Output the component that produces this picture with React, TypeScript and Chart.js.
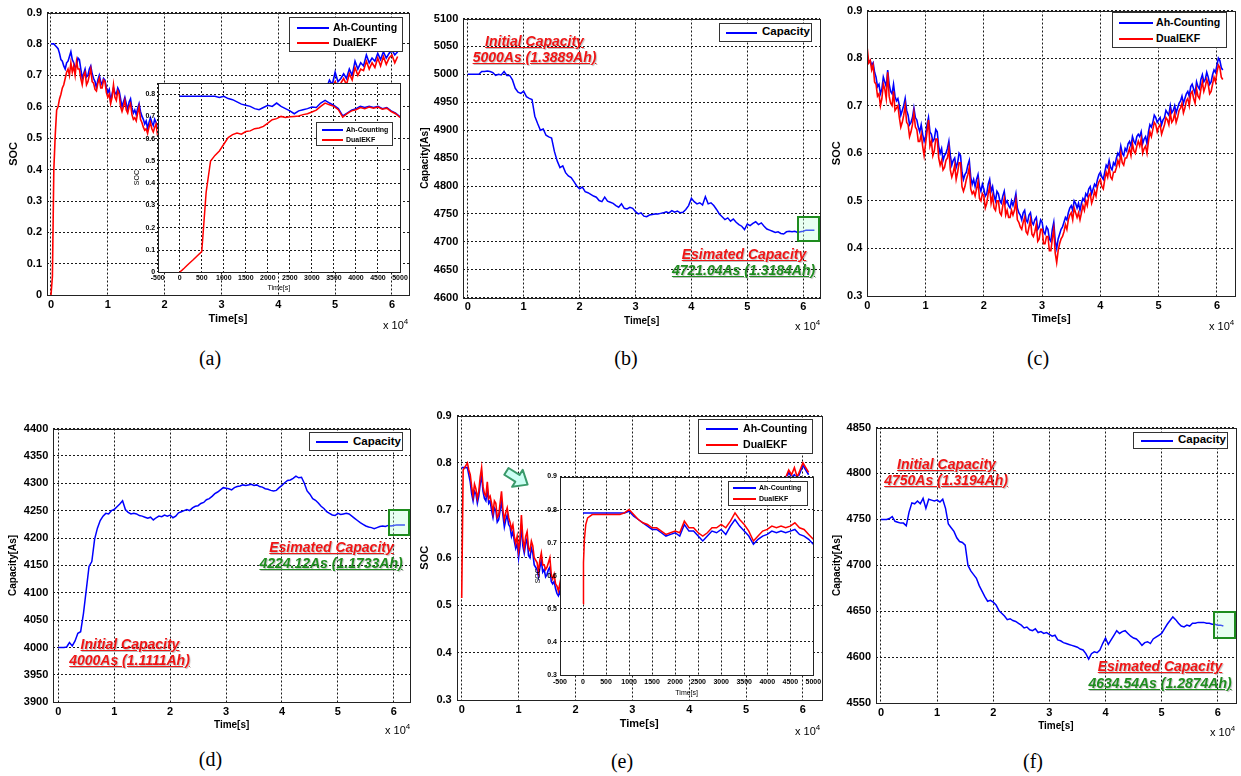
import React, { useEffect, useRef } from "react";
import { Chart, registerables } from "chart.js";

Chart.register(...registerables);

const SANS = "'Liberation Sans', Arial, Helvetica, sans-serif";
const SERIF = "'Liberation Serif', 'Times New Roman', serif";
Chart.defaults.font.family = SANS;

// ---------- time axes ----------
// main panels: time in units of 1e4 s
const timeE4 = [
  0, 0.05, 0.1, 0.15, 0.2, 0.25, 0.3, 0.35, 0.4, 0.45,
  0.5, 0.55, 0.6, 0.65, 0.7, 0.75, 0.8, 0.85, 0.9, 0.95,
  1, 1.05, 1.1, 1.15, 1.2, 1.25, 1.3, 1.35, 1.4, 1.45,
  1.5, 1.55, 1.6, 1.65, 1.7, 1.75, 1.8, 1.85, 1.9, 1.95,
  2, 2.05, 2.1, 2.15, 2.2, 2.25, 2.3, 2.35, 2.4, 2.45,
  2.5, 2.55, 2.6, 2.65, 2.7, 2.75, 2.8, 2.85, 2.9, 2.95,
  3, 3.05, 3.1, 3.15, 3.2, 3.25, 3.3, 3.35, 3.4, 3.45,
  3.5, 3.55, 3.6, 3.65, 3.7, 3.75, 3.8, 3.85, 3.9, 3.95,
  4, 4.05, 4.1, 4.15, 4.2, 4.25, 4.3, 4.35, 4.4, 4.45,
  4.5, 4.55, 4.6, 4.65, 4.7, 4.75, 4.8, 4.85, 4.9, 4.95,
  5, 5.05, 5.1, 5.15, 5.2, 5.25, 5.3, 5.35, 5.4, 5.45,
  5.5, 5.55, 5.6, 5.65, 5.7, 5.75, 5.8, 5.85, 5.9, 5.95,
  6, 6.05, 6.1, 6.15, 6.2,
];
// finer sampling (units of 1e4 s) for panel (c)
const timeFineE4 = [
  0, 0.025, 0.05, 0.075, 0.1, 0.125, 0.15, 0.175, 0.2, 0.225, 0.25, 0.275, 0.3, 0.325, 0.35, 0.375, 0.4, 0.425, 0.45, 0.475,
  0.5, 0.525, 0.55, 0.575, 0.6, 0.625, 0.65, 0.675, 0.7, 0.725, 0.75, 0.775, 0.8, 0.825, 0.85, 0.875, 0.9, 0.925, 0.95, 0.975,
  1, 1.025, 1.05, 1.075, 1.1, 1.125, 1.15, 1.175, 1.2, 1.225, 1.25, 1.275, 1.3, 1.325, 1.35, 1.375, 1.4, 1.425, 1.45, 1.475,
  1.5, 1.525, 1.55, 1.575, 1.6, 1.625, 1.65, 1.675, 1.7, 1.725, 1.75, 1.775, 1.8, 1.825, 1.85, 1.875, 1.9, 1.925, 1.95, 1.975,
  2, 2.025, 2.05, 2.075, 2.1, 2.125, 2.15, 2.175, 2.2, 2.225, 2.25, 2.275, 2.3, 2.325, 2.35, 2.375, 2.4, 2.425, 2.45, 2.475,
  2.5, 2.525, 2.55, 2.575, 2.6, 2.625, 2.65, 2.675, 2.7, 2.725, 2.75, 2.775, 2.8, 2.825, 2.85, 2.875, 2.9, 2.925, 2.95, 2.975,
  3, 3.025, 3.05, 3.075, 3.1, 3.125, 3.15, 3.175, 3.2, 3.225, 3.25, 3.275, 3.3, 3.325, 3.35, 3.375, 3.4, 3.425, 3.45, 3.475,
  3.5, 3.525, 3.55, 3.575, 3.6, 3.625, 3.65, 3.675, 3.7, 3.725, 3.75, 3.775, 3.8, 3.825, 3.85, 3.875, 3.9, 3.925, 3.95, 3.975,
  4, 4.025, 4.05, 4.075, 4.1, 4.125, 4.15, 4.175, 4.2, 4.225, 4.25, 4.275, 4.3, 4.325, 4.35, 4.375, 4.4, 4.425, 4.45, 4.475,
  4.5, 4.525, 4.55, 4.575, 4.6, 4.625, 4.65, 4.675, 4.7, 4.725, 4.75, 4.775, 4.8, 4.825, 4.85, 4.875, 4.9, 4.925, 4.95, 4.975,
  5, 5.025, 5.05, 5.075, 5.1, 5.125, 5.15, 5.175, 5.2, 5.225, 5.25, 5.275, 5.3, 5.325, 5.35, 5.375, 5.4, 5.425, 5.45, 5.475,
  5.5, 5.525, 5.55, 5.575, 5.6, 5.625, 5.65, 5.675, 5.7, 5.725, 5.75, 5.775, 5.8, 5.825, 5.85, 5.875, 5.9, 5.925, 5.95, 5.975,
  6, 6.025, 6.05, 6.075, 6.1,
];
// mixed sampling for panels (a) and (e): fine where the main curve is visible, coarser under the inset
const timeMixE4 = [
  0, 0.025, 0.05, 0.075, 0.1, 0.125, 0.15, 0.175, 0.2, 0.225, 0.25, 0.275, 0.3, 0.325, 0.35, 0.375, 0.4, 0.425, 0.45, 0.475,
  0.5, 0.525, 0.55, 0.575, 0.6, 0.625, 0.65, 0.675, 0.7, 0.725, 0.75, 0.775, 0.8, 0.825, 0.85, 0.875, 0.9, 0.925, 0.95, 0.975,
  1, 1.025, 1.05, 1.075, 1.1, 1.125, 1.15, 1.175, 1.2, 1.225, 1.25, 1.275, 1.3, 1.325, 1.35, 1.375, 1.4, 1.425, 1.45, 1.475,
  1.5, 1.525, 1.55, 1.575, 1.6, 1.625, 1.65, 1.675, 1.7, 1.725, 1.75, 1.775, 1.8, 1.825, 1.85, 1.875, 1.9, 1.925, 1.95, 1.975,
  2, 2.05, 2.1, 2.15, 2.2, 2.25, 2.3, 2.35, 2.4, 2.45,
  2.5, 2.55, 2.6, 2.65, 2.7, 2.75, 2.8, 2.85, 2.9, 2.95,
  3, 3.05, 3.1, 3.15, 3.2, 3.25, 3.3, 3.35, 3.4, 3.45,
  3.5, 3.55, 3.6, 3.65, 3.7, 3.75, 3.8, 3.85, 3.9, 3.95,
  4, 4.05, 4.1, 4.15, 4.2, 4.25, 4.3, 4.35, 4.4, 4.45,
  4.5, 4.55, 4.6, 4.65, 4.7, 4.75, 4.8, 4.85, 4.9, 4.95,
  5, 5.05, 5.1, 5.15, 5.2, 5.25, 5.3, 5.35, 5.4, 5.45,
  5.5, 5.55, 5.6, 5.65, 5.7, 5.75, 5.8, 5.85, 5.9, 5.95,
  6, 6.05, 6.1,
];
// insets: time in seconds
const insetTime = [
  0, 10, 30, 60, 100, 200, 300, 400, 500, 600, 700, 800,
  900, 1000, 1100, 1200, 1300, 1400, 1500, 1600, 1700, 1800,
  1900, 2000, 2100, 2200, 2300, 2400, 2500, 2600, 2700, 2800,
  2900, 3000, 3100, 3200, 3300, 3400, 3500, 3600, 3700, 3800,
  3900, 4000, 4100, 4200, 4300, 4400, 4500, 4600, 4700, 4800,
  4900, 5000,
];

// ---------- tick labels ----------
const timeTicks = [0, 1, 2, 3, 4, 5, 6];
const socTicksFull = [0, 0.1, 0.2, 0.3, 0.4, 0.5, 0.6, 0.7, 0.8, 0.9];
const socTicksUpper = [0.3, 0.4, 0.5, 0.6, 0.7, 0.8, 0.9];
const insetTimeTicks = [-500, 0, 500, 1000, 1500, 2000, 2500, 3000, 3500, 4000, 4500, 5000];
const insetSocTicksA = [0, 0.1, 0.2, 0.3, 0.4, 0.5, 0.6, 0.7, 0.8];
const capTicksB = [4600, 4650, 4700, 4750, 4800, 4850, 4900, 4950, 5000, 5050, 5100];
const capTicksD = [3900, 3950, 4000, 4050, 4100, 4150, 4200, 4250, 4300, 4350, 4400];
const capTicksF = [4550, 4600, 4650, 4700, 4750, 4800, 4850];

// ---------- series names ----------
const socNames = ["Ah-Counting", "DualEKF"];
const capName = "Capacity";

// ---------- (a) (on timeMixE4) ----------
const socAhA = [
  0.80, 0.80, 0.80, 0.795, 0.79, 0.785, 0.77, 0.75, 0.745, 0.73, 0.72, 0.74, 0.745, 0.76, 0.775, 0.75, 0.74, 0.725, 0.73, 0.755,
  0.75, 0.72, 0.69, 0.705, 0.72, 0.695, 0.70, 0.72, 0.73, 0.705, 0.69, 0.68, 0.66, 0.685, 0.70, 0.68, 0.67, 0.69, 0.685, 0.66,
  0.645, 0.655, 0.62, 0.64, 0.66, 0.645, 0.64, 0.66, 0.65, 0.625, 0.60, 0.615, 0.63, 0.61, 0.59, 0.615, 0.625, 0.595, 0.58, 0.59,
  0.575, 0.595, 0.61, 0.585, 0.57, 0.56, 0.545, 0.555, 0.53, 0.55, 0.565, 0.55, 0.54, 0.56, 0.55, 0.535, 0.53, 0.545, 0.52, 0.53,
  0.525, 0.515, 0.53, 0.50, 0.51, 0.495, 0.50, 0.49, 0.485, 0.49,
  0.48, 0.475, 0.465, 0.47, 0.455, 0.46, 0.45, 0.455, 0.44, 0.445,
  0.43, 0.435, 0.425, 0.42, 0.435, 0.41, 0.43, 0.445, 0.455, 0.47,
  0.48, 0.49, 0.485, 0.50, 0.505, 0.515, 0.52, 0.53, 0.535, 0.545,
  0.55, 0.56, 0.565, 0.575, 0.58, 0.59, 0.595, 0.605, 0.61, 0.62,
  0.625, 0.635, 0.64, 0.645, 0.65, 0.655, 0.67, 0.66, 0.685, 0.67,
  0.71, 0.68, 0.69, 0.705, 0.69, 0.72, 0.70, 0.745, 0.72, 0.74,
  0.73, 0.765, 0.74, 0.755, 0.745, 0.77, 0.75, 0.775, 0.755, 0.77,
  0.78, 0.765, 0.775,
];
const socEkfA = [
  0, 0.06, 0.40, 0.51, 0.59, 0.60, 0.625, 0.64, 0.66, 0.67, 0.69, 0.71, 0.72, 0.70, 0.74, 0.71, 0.73, 0.70, 0.745, 0.72,
  0.72, 0.69, 0.67, 0.70, 0.71, 0.67, 0.68, 0.70, 0.72, 0.68, 0.675, 0.655, 0.65, 0.675, 0.69, 0.66, 0.66, 0.685, 0.68, 0.645,
  0.63, 0.64, 0.61, 0.63, 0.67, 0.63, 0.62, 0.65, 0.64, 0.60, 0.585, 0.60, 0.62, 0.59, 0.58, 0.60, 0.61, 0.575, 0.56, 0.565,
  0.555, 0.58, 0.60, 0.56, 0.55, 0.535, 0.525, 0.53, 0.515, 0.535, 0.55, 0.53, 0.52, 0.535, 0.545, 0.51, 0.515, 0.525, 0.505, 0.515,
  0.51, 0.50, 0.515, 0.485, 0.495, 0.48, 0.485, 0.475, 0.47, 0.475,
  0.465, 0.46, 0.45, 0.455, 0.44, 0.445, 0.435, 0.44, 0.425, 0.43,
  0.415, 0.42, 0.41, 0.405, 0.42, 0.395, 0.415, 0.43, 0.44, 0.455,
  0.465, 0.475, 0.47, 0.485, 0.49, 0.50, 0.505, 0.515, 0.52, 0.53,
  0.535, 0.545, 0.55, 0.56, 0.565, 0.575, 0.58, 0.59, 0.595, 0.605,
  0.61, 0.62, 0.625, 0.63, 0.635, 0.64, 0.655, 0.645, 0.665, 0.66,
  0.68, 0.665, 0.675, 0.69, 0.67, 0.705, 0.685, 0.725, 0.70, 0.72,
  0.715, 0.745, 0.72, 0.74, 0.725, 0.755, 0.73, 0.76, 0.735, 0.755,
  0.765, 0.74, 0.76,
];
const insetAhA = [
  0.79, 0.79, 0.79, 0.79, 0.79, 0.79, 0.79, 0.79, 0.79, 0.79, 0.79, 0.79,
  0.785, 0.79, 0.78, 0.775, 0.765, 0.755, 0.75, 0.745, 0.735, 0.73,
  0.74, 0.75, 0.745, 0.76, 0.745, 0.735, 0.725, 0.712, 0.725, 0.73,
  0.735, 0.742, 0.74, 0.76, 0.772, 0.76, 0.75, 0.735, 0.702, 0.715,
  0.728, 0.735, 0.745, 0.74, 0.745, 0.74, 0.745, 0.735, 0.74, 0.725,
  0.715, 0.698,
];
const insetEkfA = [
  0, 0.002, 0.006, 0.011, 0.018, 0.037, 0.055, 0.074, 0.093, 0.36, 0.50, 0.525,
  0.545, 0.575, 0.605, 0.618, 0.625, 0.62, 0.632, 0.635, 0.645, 0.648,
  0.655, 0.67, 0.685, 0.69, 0.70, 0.695, 0.698, 0.70, 0.702, 0.708,
  0.712, 0.72, 0.728, 0.745, 0.76, 0.752, 0.745, 0.73, 0.697, 0.712,
  0.725, 0.73, 0.74, 0.735, 0.742, 0.737, 0.742, 0.732, 0.737, 0.722,
  0.712, 0.695,
];

// ---------- (b) ----------
const capacityB = [
  5000, 5000, 5000, 5000, 5000, 5005, 5005, 5006, 5005, 5003,
  4998, 5000, 4999, 5005, 4998, 4998, 4990, 4975, 4968, 4966,
  4970, 4960, 4957, 4955, 4925, 4912, 4900, 4902, 4891, 4888,
  4886, 4862, 4845, 4833, 4836, 4824, 4818, 4815, 4808, 4800,
  4795, 4798, 4790, 4788, 4785, 4782, 4780, 4774, 4772, 4780,
  4773, 4771, 4769, 4765, 4762, 4768, 4760, 4759, 4762, 4760,
  4754, 4750, 4752, 4746, 4745, 4748, 4749, 4750, 4750, 4751,
  4752, 4754, 4752, 4756, 4753, 4755, 4752, 4753, 4758, 4765,
  4778, 4772, 4768, 4770, 4766, 4781, 4768, 4770, 4765, 4758,
  4750, 4745, 4740, 4743, 4737, 4741, 4735, 4731, 4728, 4722,
  4732, 4729, 4733, 4736, 4731, 4734, 4728, 4723, 4721, 4719,
  4717, 4718, 4715, 4714, 4718, 4719, 4718, 4719, 4717, 4718,
  4719, 4721, 4721, 4721, 4721,
];

// ---------- (c) (on timeFineE4) ----------
const socAhC = [
  0.795, 0.79, 0.795, 0.785, 0.79, 0.77, 0.76, 0.74, 0.745, 0.725, 0.735, 0.76, 0.75, 0.74, 0.775, 0.745, 0.73, 0.725, 0.745, 0.72,
  0.71, 0.715, 0.70, 0.68, 0.69, 0.70, 0.715, 0.69, 0.68, 0.66, 0.665, 0.675, 0.695, 0.675, 0.67, 0.655, 0.645, 0.66, 0.64, 0.625,
  0.635, 0.66, 0.675, 0.645, 0.64, 0.625, 0.63, 0.65, 0.645, 0.615, 0.60, 0.61, 0.585, 0.595, 0.60, 0.61, 0.625, 0.595, 0.575, 0.585,
  0.59, 0.57, 0.58, 0.60, 0.595, 0.56, 0.545, 0.555, 0.56, 0.575, 0.585, 0.55, 0.535, 0.545, 0.53, 0.545, 0.555, 0.53, 0.52, 0.535,
  0.525, 0.51, 0.515, 0.535, 0.545, 0.52, 0.53, 0.51, 0.50, 0.52, 0.515, 0.50, 0.495, 0.51, 0.52, 0.495, 0.50, 0.49, 0.485, 0.50,
  0.49, 0.50, 0.515, 0.485, 0.475, 0.47, 0.46, 0.475, 0.48, 0.46, 0.455, 0.47, 0.475, 0.455, 0.45, 0.46, 0.465, 0.44, 0.445, 0.46,
  0.455, 0.435, 0.43, 0.445, 0.44, 0.42, 0.415, 0.44, 0.455, 0.415, 0.40, 0.42, 0.43, 0.44, 0.445, 0.455, 0.465, 0.46, 0.475, 0.485,
  0.49, 0.48, 0.50, 0.495, 0.485, 0.495, 0.48, 0.495, 0.505, 0.50, 0.515, 0.51, 0.525, 0.53, 0.515, 0.525, 0.535, 0.53, 0.545, 0.555,
  0.56, 0.55, 0.545, 0.56, 0.575, 0.57, 0.585, 0.57, 0.565, 0.58, 0.575, 0.59, 0.60, 0.595, 0.615, 0.60, 0.595, 0.61, 0.605, 0.62,
  0.625, 0.615, 0.635, 0.625, 0.62, 0.635, 0.64, 0.635, 0.645, 0.62, 0.63, 0.635, 0.62, 0.645, 0.66, 0.655, 0.665, 0.68, 0.675, 0.665,
  0.67, 0.675, 0.66, 0.67, 0.675, 0.69, 0.685, 0.68, 0.70, 0.685, 0.69, 0.70, 0.685, 0.695, 0.705, 0.71, 0.72, 0.705, 0.715, 0.725,
  0.73, 0.72, 0.74, 0.745, 0.735, 0.725, 0.75, 0.74, 0.735, 0.755, 0.765, 0.75, 0.755, 0.77, 0.76, 0.745, 0.75, 0.765, 0.775, 0.77,
  0.785, 0.80, 0.795, 0.78, 0.775,
];
const socEkfC = [
  0.82, 0.79, 0.795, 0.775, 0.785, 0.75, 0.745, 0.72, 0.725, 0.70, 0.715, 0.745, 0.735, 0.715, 0.77, 0.72, 0.705, 0.70, 0.73, 0.69,
  0.695, 0.70, 0.675, 0.655, 0.665, 0.68, 0.70, 0.665, 0.66, 0.635, 0.645, 0.66, 0.685, 0.655, 0.65, 0.625, 0.625, 0.64, 0.615, 0.595,
  0.62, 0.645, 0.67, 0.615, 0.625, 0.595, 0.605, 0.63, 0.63, 0.59, 0.575, 0.585, 0.565, 0.57, 0.585, 0.59, 0.61, 0.565, 0.55, 0.56,
  0.575, 0.545, 0.56, 0.58, 0.58, 0.53, 0.52, 0.53, 0.545, 0.555, 0.57, 0.525, 0.515, 0.52, 0.51, 0.525, 0.54, 0.505, 0.50, 0.515,
  0.51, 0.485, 0.495, 0.515, 0.53, 0.495, 0.51, 0.485, 0.48, 0.50, 0.50, 0.475, 0.47, 0.49, 0.505, 0.47, 0.48, 0.465, 0.465, 0.48,
  0.47, 0.48, 0.50, 0.46, 0.455, 0.445, 0.44, 0.455, 0.465, 0.435, 0.43, 0.445, 0.46, 0.43, 0.425, 0.435, 0.45, 0.415, 0.42, 0.44,
  0.44, 0.41, 0.41, 0.425, 0.425, 0.395, 0.395, 0.42, 0.44, 0.39, 0.37, 0.395, 0.41, 0.42, 0.425, 0.435, 0.45, 0.44, 0.46, 0.47,
  0.475, 0.46, 0.485, 0.475, 0.465, 0.475, 0.46, 0.475, 0.49, 0.48, 0.50, 0.49, 0.51, 0.515, 0.495, 0.505, 0.52, 0.51, 0.53, 0.54,
  0.545, 0.53, 0.525, 0.545, 0.56, 0.55, 0.57, 0.55, 0.545, 0.56, 0.56, 0.57, 0.585, 0.575, 0.60, 0.58, 0.575, 0.59, 0.59, 0.60,
  0.61, 0.595, 0.62, 0.605, 0.60, 0.615, 0.625, 0.615, 0.63, 0.60, 0.61, 0.615, 0.60, 0.625, 0.645, 0.635, 0.65, 0.665, 0.66, 0.645,
  0.655, 0.66, 0.64, 0.65, 0.66, 0.675, 0.67, 0.66, 0.685, 0.665, 0.67, 0.685, 0.665, 0.675, 0.69, 0.695, 0.705, 0.685, 0.695, 0.71,
  0.715, 0.70, 0.725, 0.73, 0.715, 0.705, 0.735, 0.72, 0.715, 0.735, 0.75, 0.73, 0.74, 0.755, 0.745, 0.725, 0.73, 0.745, 0.76, 0.75,
  0.77, 0.785, 0.78, 0.76, 0.755,
];

// ---------- (d) ----------
const capacityD = [
  4000, 4000, 4000, 4001, 4009, 4003, 4012, 4026, 4029, 4062,
  4105, 4148, 4157, 4198, 4218, 4232, 4240, 4245, 4244, 4250,
  4252, 4257, 4262, 4268, 4252, 4247, 4244, 4245, 4244, 4241,
  4240, 4238, 4236, 4238, 4233, 4237, 4240, 4239, 4242, 4240,
  4242, 4237, 4240, 4246, 4248, 4250, 4252, 4250, 4255, 4258,
  4259, 4263, 4265, 4270, 4272, 4276, 4281, 4284, 4288, 4292,
  4291, 4290, 4288, 4292, 4294, 4295, 4297, 4296, 4297, 4298,
  4296, 4297, 4294, 4293, 4290, 4289, 4287, 4286, 4287, 4292,
  4296, 4301, 4305, 4306, 4309, 4313, 4310, 4311, 4300, 4286,
  4280, 4272, 4269, 4264, 4258, 4254, 4248, 4245, 4242, 4241,
  4245, 4243, 4244, 4245, 4244, 4240, 4236, 4232, 4228, 4225,
  4222, 4220, 4219, 4217, 4219, 4221, 4222, 4221, 4223, 4222,
  4223, 4224, 4224, 4224, 4224,
];

// ---------- (e) (on timeMixE4) ----------
const socAhE = [
  0.79, 0.79, 0.79, 0.79, 0.79, 0.775, 0.76, 0.735, 0.72, 0.74, 0.735, 0.715, 0.73, 0.755, 0.775, 0.74, 0.725, 0.72, 0.745, 0.715,
  0.72, 0.70, 0.685, 0.705, 0.70, 0.675, 0.68, 0.70, 0.72, 0.69, 0.665, 0.68, 0.69, 0.67, 0.665, 0.645, 0.655, 0.635, 0.62, 0.63,
  0.60, 0.625, 0.67, 0.625, 0.61, 0.63, 0.64, 0.605, 0.60, 0.62, 0.61, 0.585, 0.58, 0.575, 0.56, 0.58, 0.595, 0.57, 0.575, 0.56,
  0.565, 0.575, 0.58, 0.55, 0.545, 0.55, 0.535, 0.525, 0.52, 0.53, 0.515, 0.52, 0.53, 0.515, 0.52, 0.51, 0.51, 0.52, 0.515, 0.505,
  0.50, 0.505, 0.49, 0.495, 0.48, 0.485, 0.47, 0.475, 0.46, 0.465,
  0.45, 0.455, 0.44, 0.445, 0.43, 0.435, 0.42, 0.425, 0.41, 0.415,
  0.40, 0.41, 0.40, 0.395, 0.41, 0.40, 0.42, 0.43, 0.44, 0.45,
  0.46, 0.47, 0.48, 0.49, 0.50, 0.51, 0.52, 0.53, 0.54, 0.55,
  0.56, 0.57, 0.58, 0.59, 0.60, 0.61, 0.62, 0.63, 0.635, 0.645,
  0.65, 0.66, 0.665, 0.675, 0.68, 0.69, 0.695, 0.70, 0.705, 0.71,
  0.715, 0.72, 0.725, 0.73, 0.735, 0.74, 0.74, 0.745, 0.75, 0.75,
  0.755, 0.76, 0.755, 0.76, 0.765, 0.78, 0.77, 0.775, 0.765, 0.78,
  0.795, 0.785, 0.775,
];
const socEkfE = [
  0.515, 0.785, 0.79, 0.795, 0.80, 0.785, 0.775, 0.75, 0.73, 0.755, 0.745, 0.725, 0.74, 0.77, 0.79, 0.75, 0.735, 0.73, 0.76, 0.725,
  0.73, 0.715, 0.695, 0.72, 0.715, 0.685, 0.69, 0.715, 0.74, 0.70, 0.68, 0.695, 0.705, 0.685, 0.675, 0.66, 0.67, 0.645, 0.63, 0.645,
  0.615, 0.64, 0.69, 0.64, 0.62, 0.645, 0.655, 0.62, 0.615, 0.635, 0.625, 0.60, 0.595, 0.59, 0.57, 0.595, 0.61, 0.585, 0.585, 0.575,
  0.58, 0.59, 0.60, 0.565, 0.555, 0.565, 0.545, 0.54, 0.53, 0.545, 0.525, 0.535, 0.54, 0.53, 0.53, 0.525, 0.52, 0.53, 0.525, 0.52,
  0.51, 0.515, 0.50, 0.505, 0.49, 0.495, 0.48, 0.485, 0.47, 0.475,
  0.46, 0.465, 0.45, 0.455, 0.44, 0.445, 0.43, 0.435, 0.42, 0.425,
  0.41, 0.42, 0.41, 0.405, 0.42, 0.41, 0.43, 0.44, 0.45, 0.46,
  0.47, 0.48, 0.49, 0.50, 0.51, 0.52, 0.53, 0.54, 0.55, 0.56,
  0.57, 0.58, 0.59, 0.60, 0.61, 0.62, 0.63, 0.64, 0.645, 0.655,
  0.66, 0.67, 0.675, 0.685, 0.69, 0.70, 0.705, 0.71, 0.715, 0.72,
  0.725, 0.73, 0.735, 0.74, 0.745, 0.75, 0.75, 0.755, 0.76, 0.76,
  0.765, 0.765, 0.76, 0.765, 0.77, 0.785, 0.775, 0.79, 0.77, 0.785,
  0.80, 0.79, 0.78,
];
const insetAhE = [
  0.79, 0.79, 0.79, 0.79, 0.79, 0.79, 0.79, 0.79, 0.79, 0.79, 0.79, 0.79,
  0.79, 0.795, 0.78, 0.77, 0.76, 0.75, 0.74, 0.74, 0.73, 0.72,
  0.725, 0.73, 0.72, 0.755, 0.735, 0.735, 0.72, 0.705, 0.72, 0.735,
  0.73, 0.74, 0.725, 0.75, 0.77, 0.75, 0.735, 0.72, 0.695, 0.71,
  0.72, 0.725, 0.735, 0.73, 0.735, 0.73, 0.735, 0.74, 0.725, 0.72,
  0.71, 0.695,
];
const insetEkfE = [
  0.515, 0.64, 0.71, 0.755, 0.775, 0.785, 0.785, 0.785, 0.785, 0.785, 0.785, 0.785,
  0.79, 0.80, 0.785, 0.77, 0.76, 0.755, 0.745, 0.745, 0.735, 0.725,
  0.73, 0.735, 0.73, 0.765, 0.745, 0.745, 0.73, 0.72, 0.73, 0.745,
  0.745, 0.755, 0.745, 0.765, 0.79, 0.77, 0.755, 0.735, 0.705, 0.72,
  0.735, 0.74, 0.75, 0.745, 0.75, 0.745, 0.75, 0.76, 0.745, 0.74,
  0.725, 0.71,
];

// ---------- (f) ----------
const capacityF = [
  4750, 4750, 4750, 4751, 4753, 4748, 4747, 4746, 4746, 4743,
  4758, 4768, 4767, 4770, 4767, 4773, 4762, 4772, 4771, 4770,
  4771, 4769, 4772, 4762, 4745, 4741, 4737, 4730, 4726, 4725,
  4722, 4700, 4694, 4690, 4686, 4678, 4672, 4666, 4661, 4662,
  4660, 4657, 4651, 4648, 4645, 4641, 4642, 4640, 4639, 4637,
  4635, 4632, 4633, 4630, 4629, 4631, 4627, 4628, 4626, 4627,
  4625, 4623, 4624, 4619, 4618, 4616, 4615, 4614, 4613, 4612,
  4611, 4609, 4608, 4604, 4598, 4604, 4606, 4605, 4608, 4615,
  4621, 4614, 4619, 4624, 4629, 4626, 4628, 4629, 4626, 4623,
  4621, 4620, 4617, 4613, 4616, 4617, 4615, 4620, 4622, 4624,
  4626, 4631, 4636, 4640, 4644, 4641, 4637, 4634, 4633, 4635,
  4634, 4637, 4637, 4638, 4638, 4638, 4637, 4637, 4636, 4636,
  4635, 4635, 4634,
];

// ---------- styling ----------
const BLUE = "#0000ff";
const RED = "#ff0000";
const GREEN = "#1e8c1e";
const ANN_RED = "#f01515";
const GRID = "#1a1a1a";

type Series = { t: number[]; v: number[]; color: string; width: number };
type Spec = {
  left: number; top: number; right: number; bottom: number;
  xMin: number; xMax: number; yMin: number; yMax: number;
  xTicks: number[]; yTicks: number[];
  series: Series[];
  xTitle: string; yTitle: string;
  yTitleX: number; xTitleY: number;
  tickSize: number; titleSize: number; titleWeight: string;
  yTickGap: number; xTickGap: number;
  padT: number; padR: number;
  white?: boolean;
};

const framePlugin = {
  id: "frame",
  beforeDraw(chart: any, _args: any, opts: any) {
    if (opts && opts.white) {
      const { ctx, chartArea: c } = chart;
      ctx.save();
      ctx.fillStyle = "#ffffff";
      ctx.fillRect(c.left, c.top, c.right - c.left, c.bottom - c.top);
      ctx.restore();
    }
  },
  afterDatasetsDraw(chart: any) {
    const { ctx, chartArea: c } = chart;
    ctx.save();
    ctx.strokeStyle = "#222222";
    ctx.lineWidth = 1;
    const l = Math.round(c.left), t = Math.round(c.top);
    const r = Math.round(c.right), b = Math.round(c.bottom);
    ctx.strokeRect(l + 0.5, t + 0.5, r - l, b - t);
    ctx.restore();
  },
};

function ChartPanel({ s }: { s: Spec }) {
  const ref = useRef<HTMLCanvasElement>(null);
  const lh = s.titleSize * 1.2;
  const cl = Math.floor(s.yTitleX - lh / 2 - 1);
  const ct = Math.floor(s.top - s.padT);
  const cr = Math.ceil(s.right + s.padR);
  const cb = Math.ceil(s.xTitleY + lh / 2 + 1);
  const w = cr - cl;
  const h = cb - ct;
  const padL = s.left - cl;
  const padT = s.top - ct;
  const padR = cr - s.right;
  const padB = cb - s.bottom;
  const yTitlePad = s.yTitleX - cl - lh / 2;
  const xTitlePad = cb - s.xTitleY - lh / 2;

  useEffect(() => {
    const tickFont = { size: s.tickSize, weight: "bold" as const, lineHeight: 1 };
    const titleFont = { size: s.titleSize, weight: s.titleWeight as any };
    const chart = new Chart(ref.current as HTMLCanvasElement, {
      type: "line",
      data: {
        datasets: s.series.map((se) => ({
          data: se.v.map((v, i) => ({ x: se.t[i], y: v })),
          borderColor: se.color,
          backgroundColor: se.color,
          borderWidth: se.width,
          pointRadius: 0,
          tension: 0,
          fill: false,
        })),
      },
      options: {
        animation: false,
        responsive: false,
        devicePixelRatio: 1,
        events: [],
        layout: { padding: { left: 0, top: padT, right: padR, bottom: 0 } },
        plugins: {
          legend: { display: false },
          tooltip: { enabled: false },
          frame: { white: !!s.white },
        } as any,
        scales: {
          x: {
            type: "linear",
            min: s.xMin,
            max: s.xMax,
            bounds: "data",
            afterBuildTicks: (sc: any) => {
              sc.ticks = s.xTicks.map((v) => ({ value: v }));
            },
            afterFit: (sc: any) => {
              sc.height = padB;
            },
            ticks: {
              autoSkip: false,
              maxRotation: 0,
              minRotation: 0,
              padding: s.xTickGap,
              color: "#000",
              font: tickFont,
              callback: (v: any) => String(v),
            },
            grid: { color: GRID, lineWidth: 1, drawTicks: false },
            border: { display: false, dash: [2, 2] },
            title: {
              display: true,
              text: s.xTitle,
              color: "#000",
              font: titleFont,
              padding: { top: 0, bottom: xTitlePad },
            },
          },
          y: {
            type: "linear",
            min: s.yMin,
            max: s.yMax,
            bounds: "data",
            afterBuildTicks: (sc: any) => {
              sc.ticks = s.yTicks.map((v) => ({ value: v }));
            },
            afterFit: (sc: any) => {
              sc.width = padL;
            },
            ticks: {
              autoSkip: false,
              padding: s.yTickGap,
              color: "#000",
              font: tickFont,
              callback: (v: any) => String(v),
            },
            grid: { color: GRID, lineWidth: 1, drawTicks: false },
            border: { display: false, dash: [2, 2] },
            title: {
              display: true,
              text: s.yTitle,
              color: "#000",
              font: titleFont,
              padding: { top: yTitlePad, bottom: 0 },
            },
          },
        },
      } as any,
      plugins: [framePlugin as any],
    });
    return () => chart.destroy();
  }, []);

  return (
    <canvas
      ref={ref}
      width={w}
      height={h}
      style={{ position: "absolute", left: cl, top: ct, width: w, height: h }}
    />
  );
}

type LegendRow = { label: string; color: string; y: number };
function Legend({ box, rows, lineX, textX, size }: { box: number[]; rows: LegendRow[]; lineX: number[]; textX: number; size: number }) {
  return (
    <>
      <div
        style={{
          position: "absolute",
          left: box[0],
          top: box[1],
          width: box[2] - box[0],
          height: box[3] - box[1],
          border: "1px solid #333",
          background: "#fff",
          boxSizing: "border-box",
        }}
      />
      {rows.map((r) => (
        <React.Fragment key={r.label + r.y}>
          <div style={{ position: "absolute", left: lineX[0], top: r.y - 1, width: lineX[1] - lineX[0], height: 2, background: r.color }} />
          <div
            style={{
              position: "absolute",
              left: textX,
              top: r.y - size * 0.55,
              fontSize: size,
              lineHeight: `${size}px`,
              fontWeight: "bold",
              fontFamily: SANS,
              whiteSpace: "nowrap",
              color: "#000",
            }}
          >
            {r.label}
          </div>
        </React.Fragment>
      ))}
    </>
  );
}

function Note({ text, cx, cy, color }: { text: string; cx: number; cy: number; color: string }) {
  return (
    <div
      style={{
        position: "absolute",
        left: cx,
        top: cy,
        transform: "translate(-50%, -50%)",
        fontFamily: SANS,
        fontSize: 14,
        lineHeight: "16px",
        fontWeight: "bold",
        fontStyle: "italic",
        textDecoration: "underline",
        color,
        whiteSpace: "nowrap",
        textShadow: "1px 1px 1px rgba(0,0,0,0.25)",
      }}
    >
      {text}
    </div>
  );
}

function Exponent({ x, y }: { x: number; y: number }) {
  return (
    <div style={{ position: "absolute", left: x, top: y, fontFamily: SANS, fontSize: 11, lineHeight: "11px", whiteSpace: "nowrap", color: "#000" }}>
      x 10
      <span style={{ fontSize: 8, position: "relative", top: -5 }}>4</span>
    </div>
  );
}

function Caption({ text, cx, cy }: { text: string; cx: number; cy: number }) {
  return (
    <div style={{ position: "absolute", left: cx, top: cy, transform: "translate(-50%, -50%)", fontFamily: SERIF, fontSize: 20, color: "#000" }}>
      {text}
    </div>
  );
}

function GreenBox({ l, t, r, b }: { l: number; t: number; r: number; b: number }) {
  return (
    <div
      style={{
        position: "absolute",
        left: l,
        top: t,
        width: r - l,
        height: b - t,
        border: `2px solid ${GREEN}`,
        background: "rgba(190,255,215,0.35)",
        boxSizing: "border-box",
      }}
    />
  );
}

const mainBase = {
  tickSize: 11,
  titleSize: 11,
  titleWeight: "bold",
  yTickGap: 5,
  xTickGap: 4,
  padT: 8,
  padR: 5,
};

const specA: Spec = {
  ...mainBase,
  left: 47, top: 10, right: 409, bottom: 295.3,
  xMin: -0.07, xMax: 6.3, yMin: 0, yMax: 0.9,
  xTicks: timeTicks, yTicks: socTicksFull,
  series: [
    { t: timeMixE4, v: socEkfA, color: RED, width: 1.6 },
    { t: timeMixE4, v: socAhA, color: BLUE, width: 1.6 },
  ],
  xTitle: "Time[s]", yTitle: "SOC", yTitleX: 14, xTitleY: 319,
};
const specAInset: Spec = {
  left: 157.7, top: 82.7, right: 400, bottom: 272.3,
  xMin: -500, xMax: 5000, yMin: 0, yMax: 0.85,
  xTicks: insetTimeTicks, yTicks: insetSocTicksA,
  series: [
    { t: insetTime, v: insetEkfA, color: RED, width: 1.5 },
    { t: insetTime, v: insetAhA, color: BLUE, width: 1.5 },
  ],
  xTitle: "Time[s]", yTitle: "SOC", yTitleX: 136.7, xTitleY: 288,
  tickSize: 7, titleSize: 7, titleWeight: "normal",
  yTickGap: 2.5, xTickGap: 2, padT: 5, padR: 12, white: true,
};
const specB: Spec = {
  ...mainBase,
  left: 463.3, top: 16.7, right: 820, bottom: 297.7,
  xMin: -0.079, xMax: 6.3, yMin: 4600, yMax: 5100,
  xTicks: timeTicks, yTicks: capTicksB,
  series: [{ t: timeE4, v: capacityB, color: BLUE, width: 1.5 }],
  xTitle: "Time[s]", yTitle: "Capacity[As]", yTitleX: 425, xTitleY: 321, titleSize: 10,
};
const specC: Spec = {
  ...mainBase,
  left: 867.3, top: 6, right: 1235, bottom: 296,
  xMin: 0, xMax: 6.31, yMin: 0.3, yMax: 0.9,
  xTicks: timeTicks, yTicks: socTicksUpper,
  series: [
    { t: timeFineE4, v: socEkfC, color: RED, width: 1.6 },
    { t: timeFineE4, v: socAhC, color: BLUE, width: 1.6 },
  ],
  xTitle: "Time[s]", yTitle: "SOC", yTitleX: 836.7, xTitleY: 319, padT: 6,
};
const specD: Spec = {
  ...mainBase,
  left: 53.3, top: 426.7, right: 410, bottom: 702.3,
  xMin: -0.089, xMax: 6.29, yMin: 3900, yMax: 4400,
  xTicks: timeTicks, yTicks: capTicksD,
  series: [{ t: timeE4, v: capacityD, color: BLUE, width: 1.5 }],
  xTitle: "Time[s]", yTitle: "Capacity[As]", yTitleX: 13.3, xTitleY: 725, titleSize: 10,
};
const specE: Spec = {
  ...mainBase,
  left: 456.7, top: 413.3, right: 821.7, bottom: 700,
  xMin: -0.088, xMax: 6.33, yMin: 0.3, yMax: 0.9,
  xTicks: timeTicks, yTicks: socTicksUpper,
  series: [
    { t: timeMixE4, v: socEkfE, color: RED, width: 1.6 },
    { t: timeMixE4, v: socAhE, color: BLUE, width: 1.6 },
  ],
  xTitle: "Time[s]", yTitle: "SOC", yTitleX: 425, xTitleY: 724,
};
const specEInset: Spec = {
  left: 560, top: 476, right: 813.3, bottom: 675,
  xMin: -500, xMax: 5000, yMin: 0.3, yMax: 0.9,
  xTicks: insetTimeTicks, yTicks: socTicksUpper,
  series: [
    { t: insetTime, v: insetEkfE, color: RED, width: 1.5 },
    { t: insetTime, v: insetAhE, color: BLUE, width: 1.5 },
  ],
  xTitle: "Time[s]", yTitle: "SOC", yTitleX: 538.3, xTitleY: 692.7,
  tickSize: 7, titleSize: 7, titleWeight: "normal",
  yTickGap: 3, xTickGap: 4, padT: 6, padR: 12, white: true,
};
const specF: Spec = {
  ...mainBase,
  left: 876, top: 425, right: 1235.7, bottom: 703.3,
  xMin: -0.089, xMax: 6.32, yMin: 4550, yMax: 4850,
  xTicks: timeTicks, yTicks: capTicksF,
  series: [{ t: timeE4, v: capacityF, color: BLUE, width: 1.5 }],
  xTitle: "Time[s]", yTitle: "Capacity[As]", yTitleX: 837.7, xTitleY: 726, titleSize: 10,
};

export default function App() {
  return (
    <div style={{ position: "absolute", left: 0, top: 0, width: 1241, height: 776, background: "#fff", overflow: "hidden" }}>
      {/* main charts */}
      <ChartPanel s={specA} />
      <ChartPanel s={specB} />
      <ChartPanel s={specC} />
      <ChartPanel s={specD} />
      <ChartPanel s={specE} />
      <ChartPanel s={specF} />
      {/* insets */}
      <ChartPanel s={specAInset} />
      <ChartPanel s={specEInset} />

      {/* legends */}
      <Legend box={[289, 17, 403, 52]} lineX={[297, 329]} textX={333} size={10.6}
        rows={[{ label: socNames[0], color: BLUE, y: 27.5 }, { label: socNames[1], color: RED, y: 42.5 }]} />
      <Legend box={[316, 122, 393, 146]} lineX={[322, 343]} textX={346} size={7}
        rows={[{ label: socNames[0], color: BLUE, y: 130 }, { label: socNames[1], color: RED, y: 140 }]} />
      <Legend box={[719, 23, 812, 42]} lineX={[726, 757]} textX={762} size={11.5}
        rows={[{ label: capName, color: BLUE, y: 32.7 }]} />
      <Legend box={[1112, 12, 1227, 48]} lineX={[1119, 1153]} textX={1156} size={10.6}
        rows={[{ label: socNames[0], color: BLUE, y: 22.7 }, { label: socNames[1], color: RED, y: 39 }]} />
      <Legend box={[309, 432, 403, 451]} lineX={[316, 348]} textX={353} size={11.5}
        rows={[{ label: capName, color: BLUE, y: 442.3 }]} />
      <Legend box={[698, 419, 813, 454]} lineX={[706, 738]} textX={743} size={10.6}
        rows={[{ label: socNames[0], color: BLUE, y: 429 }, { label: socNames[1], color: RED, y: 445 }]} />
      <Legend box={[728, 481, 808, 506]} lineX={[733, 756]} textX={759} size={7}
        rows={[{ label: socNames[0], color: BLUE, y: 487.7 }, { label: socNames[1], color: RED, y: 499 }]} />
      <Legend box={[1133, 432, 1228, 449]} lineX={[1141, 1173]} textX={1178} size={11.5}
        rows={[{ label: capName, color: BLUE, y: 440.7 }]} />

      {/* annotations */}
      <Note text="Initial Capacity" cx={534.5} cy={41} color={ANN_RED} />
      <Note text="5000As (1.3889Ah)" cx={534.5} cy={57} color={ANN_RED} />
      <Note text="Esimated Capacity" cx={744} cy={254} color={ANN_RED} />
      <Note text="4721.04As (1.3184Ah)" cx={743.5} cy={270} color={GREEN} />
      <GreenBox l={797} t={216} r={820} b={242} />

      <Note text="Initial Capacity" cx={130} cy={644} color={ANN_RED} />
      <Note text="4000As (1.1111Ah)" cx={129.5} cy={660} color={ANN_RED} />
      <Note text="Esimated Capacity" cx={331.5} cy={547} color={ANN_RED} />
      <Note text="4224.12As (1.1733Ah)" cx={331} cy={563} color={GREEN} />
      <GreenBox l={388} t={509} r={410} b={536} />

      <Note text="Initial Capacity" cx={946.5} cy={464} color={ANN_RED} />
      <Note text="4750As (1.3194Ah)" cx={946} cy={480} color={ANN_RED} />
      <Note text="Esimated Capacity" cx={1160} cy={666} color={ANN_RED} />
      <Note text="4634.54As (1.2874Ah)" cx={1160} cy={683} color={GREEN} />
      <GreenBox l={1213} t={611} r={1236} b={639} />

      {/* arrow in (e) */}
      <svg style={{ position: "absolute", left: 500, top: 462, overflow: "visible" }} width={34} height={32}>
        <polygon
          points="0,-4 13,-4 13,-10 25,0 13,10 13,4 0,4"
          fill="#ccfff4"
          stroke="#3a9a6a"
          strokeWidth={2}
          strokeLinejoin="round"
          transform="translate(17,16) rotate(32) translate(-12.5,0)"
        />
      </svg>

      {/* x 10^4 */}
      <Exponent x={383} y={320} />
      <Exponent x={795} y={321} />
      <Exponent x={1209} y={321} />
      <Exponent x={385} y={725} />
      <Exponent x={795} y={726} />
      <Exponent x={1210} y={727} />

      {/* captions */}
      <Caption text="(a)" cx={210} cy={358} />
      <Caption text="(b)" cx={626} cy={358} />
      <Caption text="(c)" cx={1038} cy={358} />
      <Caption text="(d)" cx={210.5} cy={759} />
      <Caption text="(e)" cx={622} cy={761} />
      <Caption text="(f)" cx={1033} cy={761} />
    </div>
  );
}
